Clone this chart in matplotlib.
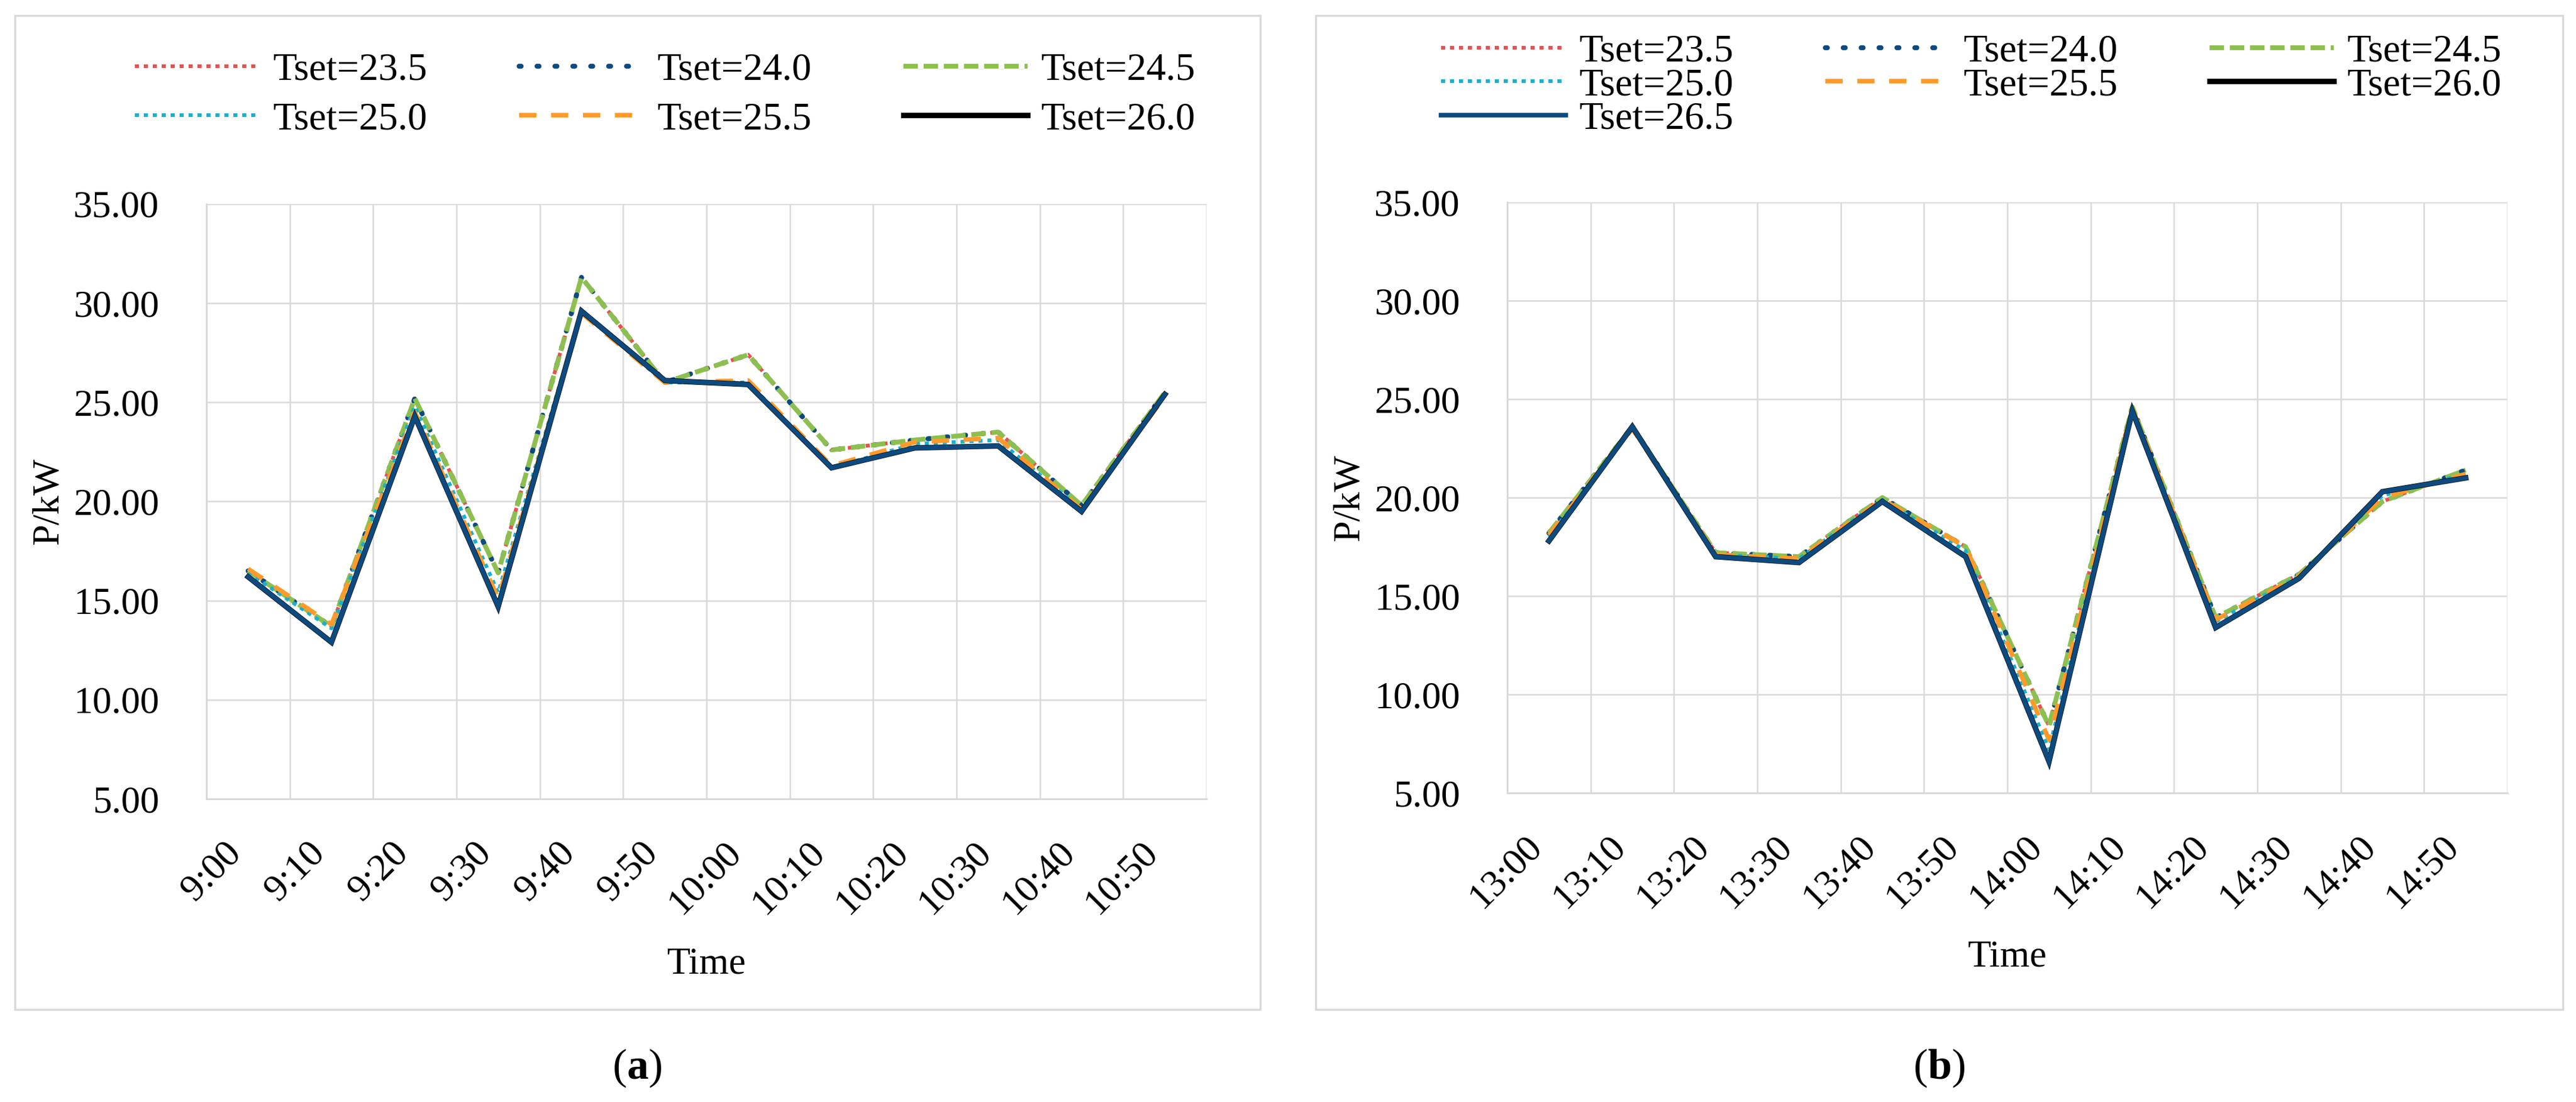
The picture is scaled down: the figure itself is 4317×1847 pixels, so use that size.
import numpy as np
import matplotlib
matplotlib.use('Agg')
import matplotlib.pyplot as plt
from matplotlib.patches import Rectangle
from matplotlib.ticker import FormatStrFormatter

plt.rcParams['font.family'] = ['Liberation Serif', 'DejaVu Serif']
plt.rcParams['mathtext.fontset'] = 'custom'
plt.rcParams['mathtext.rm'] = 'Liberation Serif'
plt.rcParams['mathtext.bf'] = 'Liberation Serif:bold'

# ---- data ----
times_a = ['9:00', '9:10', '9:20', '9:30', '9:40', '9:50',
           '10:00', '10:10', '10:20', '10:30', '10:40', '10:50']
times_b = ['13:00', '13:10', '13:20', '13:30', '13:40', '13:50',
           '14:00', '14:10', '14:20', '14:30', '14:40', '14:50']

labels = ['Tset=23.5', 'Tset=24.0', 'Tset=24.5', 'Tset=25.0',
          'Tset=25.5', 'Tset=26.0', 'Tset=26.5']

a_235 = [16.5, 13.7, 25.2, 16.4, 31.3, 26.0, 27.4, 22.6, 23.1, 23.5, 19.8, 25.5]
a_240 = [16.5, 13.7, 25.2, 16.4, 31.3, 26.0, 27.4, 22.6, 23.1, 23.5, 19.8, 25.5]
a_245 = [16.5, 13.7, 25.2, 16.4, 31.3, 26.0, 27.4, 22.6, 23.1, 23.5, 19.8, 25.5]
a_250 = [16.4, 13.6, 24.8, 15.4, 29.6, 26.0, 26.0, 21.7, 22.9, 23.1, 19.6, 25.4]
a_255 = [16.6, 13.8, 24.5, 15.1, 29.5, 26.0, 26.1, 21.8, 23.0, 23.2, 19.6, 25.3]
a_260 = [16.2, 12.9, 24.3, 14.7, 29.6, 26.1, 25.9, 21.7, 22.7, 22.8, 19.5, 25.4]
a_265 = [16.2, 12.9, 24.3, 14.7, 29.6, 26.1, 25.9, 21.7, 22.7, 22.8, 19.5, 25.4]

b_235 = [18.2, 23.6, 17.2, 17.0, 20.0, 17.5, 8.4, 24.6, 13.9, 16.1, 19.8, 21.4]
b_240 = [18.2, 23.6, 17.2, 17.0, 20.0, 17.5, 8.4, 24.6, 13.9, 16.1, 19.8, 21.4]
b_245 = [18.2, 23.6, 17.2, 17.0, 20.0, 17.5, 8.4, 24.6, 13.9, 16.1, 19.8, 21.4]
b_250 = [18.0, 23.6, 17.1, 16.9, 19.9, 17.3, 7.2, 24.5, 13.7, 16.0, 20.1, 21.2]
b_255 = [18.1, 23.5, 17.1, 16.9, 19.9, 17.5, 7.7, 24.5, 13.8, 16.0, 20.0, 21.2]
b_260 = [17.8, 23.6, 17.0, 16.7, 19.8, 17.0, 6.6, 24.4, 13.4, 15.9, 20.3, 21.0]
b_265 = [17.8, 23.6, 17.0, 16.7, 19.8, 17.0, 6.6, 24.4, 13.4, 15.9, 20.3, 21.0]

series_a = [a_235, a_240, a_245, a_250, a_255, a_260, a_265]
series_b = [b_235, b_240, b_245, b_250, b_255, b_260, b_265]

# line styles: colour, width, dash pattern, cap
styles = [
    ('#e8504f', 4.5, (0, (1.1, 1.3)), 'butt'),
    ('#0d4a7f', 6.0, (0, (0.4, 3.2)), 'round'),
    ('#8dbf50', 5.8, (0, (3.0, 1.2)), 'butt'),
    ('#1ab0d0', 4.5, (0, (1.1, 1.3)), 'butt'),
    ('#ff9a2b', 5.5, (0, (3.8, 3.2)), 'butt'),
    ('#000000', 6.5, '-', 'butt'),
    ('#0d4a7f', 5.5, '-', 'butt'),
]

W, H = 4317, 1847
FS = 46
GRID = '#d9d9d9'

fig = plt.figure(figsize=(W / 100, H / 100), dpi=100)


def px_rect(l, t, r, b):
    return [l / W, 1 - b / H, (r - l) / W, (b - t) / H]


# chart-area borders
for l, t, r, b in [(25, 26, 2112, 1692), (2205, 26, 4295, 1692)]:
    x0, y0, w, h = px_rect(l, t, r, b)
    fig.add_artist(Rectangle((x0, y0), w, h, transform=fig.transFigure,
                             fill=False, ec=GRID, lw=2.5))

ax_a = fig.add_axes(px_rect(346, 342, 2022, 1339))
ax_b = fig.add_axes(px_rect(2526, 339, 4202, 1329))


def draw(ax, times, series, n_legend):
    x = np.arange(len(times))
    lines = []
    for i, (vals, (col, lw, ls, cap)) in enumerate(zip(series, styles)):
        lab = labels[i] if i < n_legend else '_nolegend_'
        ln, = ax.plot(x, vals, color=col, lw=lw, linestyle=ls,
                      dash_capstyle=cap, solid_joinstyle='miter', label=lab)
        lines.append(ln)
    ax.set_xlim(-0.5, len(times) - 0.5)
    ax.set_ylim(5, 35)
    ax.set_yticks(np.arange(5, 36, 5))
    ax.yaxis.set_major_formatter(FormatStrFormatter('%.2f'))
    ax.set_xticks(x)
    ax.set_xticklabels(times, rotation=45, ha='right', va='top')
    ax.set_xticks(np.arange(-0.5, len(times), 1), minor=True)
    ax.grid(axis='y', which='major', color=GRID, lw=1.8)
    ax.grid(axis='x', which='minor', color=GRID, lw=1.8)
    ax.set_axisbelow(True)
    ax.tick_params(axis='y', length=0, pad=57, labelsize=FS)
    ax.tick_params(axis='x', which='major', length=0, pad=44, labelsize=FS)
    ax.tick_params(axis='x', which='minor', length=0)
    for s in ['top', 'right']:
        ax.spines[s].set_visible(False)
    for s in ['left', 'bottom']:
        ax.spines[s].set_color(GRID)
        ax.spines[s].set_linewidth(2.2)
    ax.set_xlabel('Time', fontsize=FS)
    ax.xaxis.set_label_coords(0.5, -0.278)
    ax.xaxis.label.set_va('center')
    ax.set_ylabel('P/kW', fontsize=FS)
    ax.yaxis.set_label_coords(-0.158, 0.5)
    ax.yaxis.label.set_va('center')
    return lines[:n_legend]


lines_a = draw(ax_a, times_a, series_a, 6)
lines_b = draw(ax_b, times_b, series_b, 7)

# legends, filled row by row (matplotlib fills by column)
order_a = [0, 3, 1, 4, 2, 5]
fig.legend([lines_a[i] for i in order_a], [labels[i] for i in order_a],
           loc='upper left', bbox_to_anchor=(226 / W, 1 - 88 / H),
           ncol=3, frameon=False, fontsize=FS + 1, handlelength=3.2,
           handletextpad=0.35, columnspacing=2.35, labelspacing=0.35,
           borderpad=0, borderaxespad=0)

order_b = [0, 3, 6, 1, 4, 2, 5]
fig.legend([lines_b[i] for i in order_b], [labels[i] for i in order_b],
           loc='upper left', bbox_to_anchor=(2415 / W, 1 - 57 / H),
           ncol=3, frameon=False, fontsize=FS + 1, handlelength=3.2,
           handletextpad=0.35, columnspacing=2.35, labelspacing=-0.05,
           borderpad=0, borderaxespad=0)

fig.text(1068 / W, 1 - 1790 / H, r'($\mathbf{a}$)', ha='center', va='center',
         fontsize=52)
fig.text(3250 / W, 1 - 1790 / H, r'($\mathbf{b}$)', ha='center', va='center',
         fontsize=52)

fig.savefig('out.png', dpi=100)
